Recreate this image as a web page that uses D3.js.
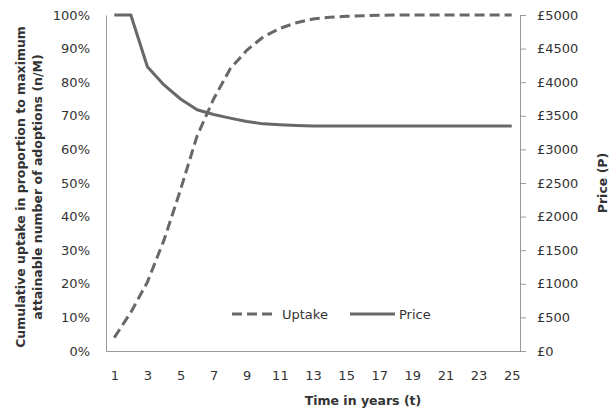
<!DOCTYPE html>
<html>
<head>
<meta charset="utf-8">
<script src="https://cdn.jsdelivr.net/npm/d3@7"></script>
<style>
  body { margin: 0; background: #fff; }
  svg { display: block; }
  text { font-family: "DejaVu Sans", sans-serif; fill: #333; }
</style>
</head>
<body>
<svg id="chart" width="611" height="411"></svg>
<script>
const years = d3.range(1, 26);
const uptake = [0.04, 0.115, 0.205, 0.33, 0.48, 0.64, 0.75, 0.84, 0.895, 0.935, 0.96, 0.977, 0.988, 0.993, 0.996, 0.998, 0.999, 1, 1, 1, 1, 1, 1, 1, 1];
const price = [5000, 5000, 4230, 3960, 3750, 3590, 3520, 3465, 3415, 3380, 3365, 3355, 3350, 3350, 3350, 3350, 3350, 3350, 3350, 3350, 3350, 3350, 3350, 3350, 3350];
const xTicks = [1, 3, 5, 7, 9, 11, 13, 15, 17, 19, 21, 23, 25];
const leftTicks = [0, 0.1, 0.2, 0.3, 0.4, 0.5, 0.6, 0.7, 0.8, 0.9, 1];
const rightTicks = [0, 500, 1000, 1500, 2000, 2500, 3000, 3500, 4000, 4500, 5000];
const seriesNames = ["Uptake", "Price"];

const svg = d3.select("#chart");
const L = 106, R = 520, T = 15, B = 351;

const x = d3.scalePoint().domain(years).range([L, R]).padding(0.5);
const yL = d3.scaleLinear().domain([0, 1]).range([B, T]);
const yR = d3.scaleLinear().domain([0, 5000]).range([B, T]);

const axisColor = "#9a9a9a";

// left axis
const gL = svg.append("g").attr("transform", `translate(${L},0)`)
  .call(d3.axisLeft(yL).tickValues(leftTicks).tickFormat(d3.format(".0%")).tickSize(0).tickPadding(16));
// right axis
const gR = svg.append("g").attr("transform", `translate(${R},0)`)
  .call(d3.axisRight(yR).tickValues(rightTicks).tickFormat(d => "£" + d).tickSizeInner(6).tickSizeOuter(0).tickPadding(11));
// bottom axis
const gB = svg.append("g").attr("transform", `translate(0,${B})`)
  .call(d3.axisBottom(x).tickValues(xTicks).tickSize(0).tickPadding(20));

[gL, gR, gB].forEach(g => {
  g.select(".domain").attr("stroke", axisColor).attr("stroke-width", 1);
  g.selectAll(".tick line").attr("stroke", axisColor);
  g.selectAll(".tick text").style("font-family", "DejaVu Sans, sans-serif").style("font-size", "13px").attr("fill", "#333");
});

const lineColor = "#686868";

// price line
svg.append("path")
  .datum(years.map((d, i) => [d, price[i]]))
  .attr("fill", "none").attr("stroke", lineColor).attr("stroke-width", 3)
  .attr("stroke-linejoin", "round")
  .attr("d", d3.line().x(d => x(d[0])).y(d => yR(d[1])));

// uptake line
svg.append("path")
  .datum(years.map((d, i) => [d, uptake[i]]))
  .attr("fill", "none").attr("stroke", lineColor).attr("stroke-width", 3)
  .attr("stroke-dasharray", "10,5")
  .attr("d", d3.line().x(d => x(d[0])).y(d => yL(d[1])));

// legend
const lg = svg.append("g");
lg.append("line").attr("x1", 232).attr("x2", 272).attr("y1", 314).attr("y2", 314)
  .attr("stroke", lineColor).attr("stroke-width", 3).attr("stroke-dasharray", "10,5");
lg.append("text").attr("x", 282).attr("y", 318.5).style("font-size", "13px").text(seriesNames[0]);
lg.append("line").attr("x1", 350).attr("x2", 395).attr("y1", 314).attr("y2", 314)
  .attr("stroke", lineColor).attr("stroke-width", 3);
lg.append("text").attr("x", 399).attr("y", 318.5).style("font-size", "13px").text(seriesNames[1]);

// titles
svg.append("text").attr("x", 363).attr("y", 405).attr("text-anchor", "middle")
  .style("font-size", "12.5px").style("font-weight", "bold").attr("fill", "#111")
  .text("Time in years (t)");

const yt = svg.append("text").attr("transform", "translate(25,187) rotate(-90)")
  .attr("text-anchor", "middle").style("font-size", "12.5px").style("font-weight", "bold").attr("fill", "#111");
yt.append("tspan").attr("x", 0).attr("y", 0).text("Cumulative uptake in proportion to maximum");
yt.append("tspan").attr("x", 0).attr("y", 17).text("attainable number of adoptions (n/M)");

svg.append("text").attr("transform", "translate(607,183) rotate(-90)")
  .attr("text-anchor", "middle").style("font-size", "12.5px").style("font-weight", "bold").attr("fill", "#111")
  .text("Price (P)");
</script>
</body>
</html>
